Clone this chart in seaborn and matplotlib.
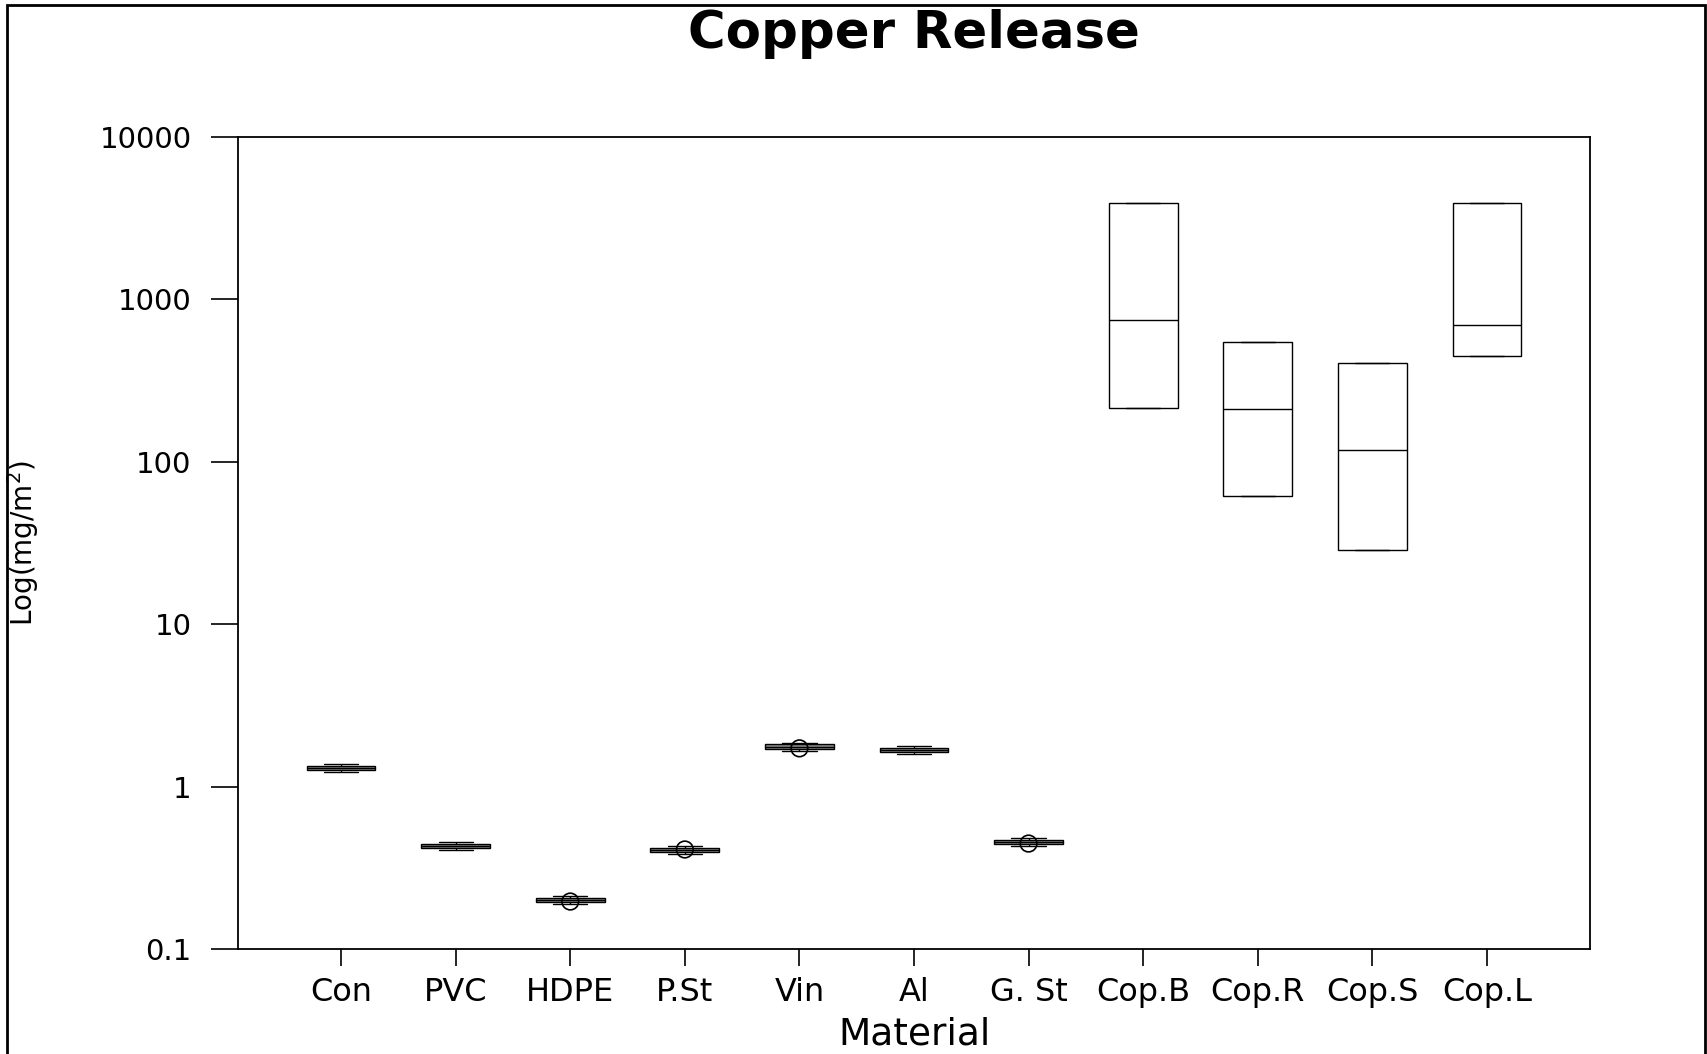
import numpy as np
import pandas as pd
import matplotlib
matplotlib.use("Agg")
import matplotlib.pyplot as plt
import seaborn as sns
from matplotlib.patches import Rectangle

# ---------------- data ----------------
materials = ["Con", "PVC", "HDPE", "P.St", "Vin", "Al", "G. St",
             "Cop.B", "Cop.R", "Cop.S", "Cop.L"]
whisker_low  = [1.23, 0.408, 0.189, 0.385, 1.66, 1.59, 0.430, 215, 61.5, 28.5, 450]
box_low      = [1.26, 0.418, 0.194, 0.395, 1.70, 1.63, 0.441, 215, 61.5, 28.5, 450]
median       = [1.30, 0.431, 0.200, 0.407, 1.76, 1.68, 0.454, 750, 210, 118, 692]
box_high     = [1.34, 0.444, 0.206, 0.419, 1.82, 1.73, 0.467, 3940, 547, 404, 3940]
whisker_high = [1.38, 0.456, 0.212, 0.431, 1.86, 1.78, 0.480, 3940, 547, 404, 3940]

outlier_materials = ["HDPE", "P.St", "Vin", "G. St"]
outlier_values = [0.196, 0.410, 1.72, 0.446]

y_ticks = [0.1, 1, 10, 100, 1000, 10000]
y_tick_labels = ["0.1", "1", "10", "100", "1000", "10000"]

title = "Copper Release"
x_label = "Material"
y_label = "Log(mg/m$^2$)"

# ---------------- styling ----------------
fill_colors = ["#8a8a8a"] * 7 + ["white"] * 4

sns.set_theme(style="ticks")
plt.rcParams["font.family"] = ["DejaVu Sans"]
plt.rcParams["axes.linewidth"] = 1.3
plt.rcParams["axes.edgecolor"] = "black"

# table built from the arrays above: 5 points per material so that
# quartiles / whiskers reproduce the box edges
rows = []
for m, a, b, c, d, e in zip(materials, whisker_low, box_low, median,
                            box_high, whisker_high):
    for v in (a, b, c, d, e):
        rows.append({"material": m, "value": v})
df = pd.DataFrame(rows)
out_df = pd.DataFrame({"material": outlier_materials, "value": outlier_values})

fig = plt.figure(figsize=(17.07, 10.54), dpi=100)
ax = fig.add_axes([238 / 1707, 1 - 949 / 1054, (1590 - 238) / 1707, (949 - 137) / 1054])

sns.boxplot(data=df, x="material", y="value", order=materials,
            hue="material", hue_order=materials, palette=fill_colors,
            saturation=1, width=0.6, linecolor="black", linewidth=1.0,
            whis=1.5, showfliers=False, log_scale=True, legend=False, ax=ax)

sns.stripplot(data=out_df, x="material", y="value", order=materials,
              jitter=False, size=12, marker="o", facecolors="none",
              edgecolor="black", linewidth=1.2, ax=ax)

ax.set_ylim(0.1, 10000)
ax.set_xlim(-0.9, 10.9)
ax.set_yticks(y_ticks, y_tick_labels)
ax.minorticks_off()
ax.set_xticks(range(len(materials)), materials)

ax.tick_params(axis="y", length=19.5, width=1.2, pad=14, labelsize=21,
               direction="out", colors="black")
ax.tick_params(axis="x", length=12, width=1.2, pad=8, labelsize=23,
               direction="out", colors="black")
for s in ax.spines.values():
    s.set_visible(True)
    s.set_color("black")
    s.set_linewidth(1.3)

ax.set_xlabel(x_label, fontsize=27, color="black")
ax.xaxis.set_label_coords(0.5, -0.083)
ax.set_ylabel(y_label, fontsize=20, color="black")
ax.yaxis.set_label_coords(-0.146, 0.5)

fig.text((238 + 1590) / 2 / 1707, 1 - 48 / 1054, title, ha="center",
         va="baseline", fontsize=37, fontweight="bold", color="black")

# outer frame around the whole figure
frame = Rectangle((7 / 1707, -0.02), (1705 - 7) / 1707, 1.02 - 5 / 1054,
                  transform=fig.transFigure, fill=False, edgecolor="black",
                  linewidth=2, clip_on=False)
fig.add_artist(frame)

fig.savefig("out.png", dpi=100)
